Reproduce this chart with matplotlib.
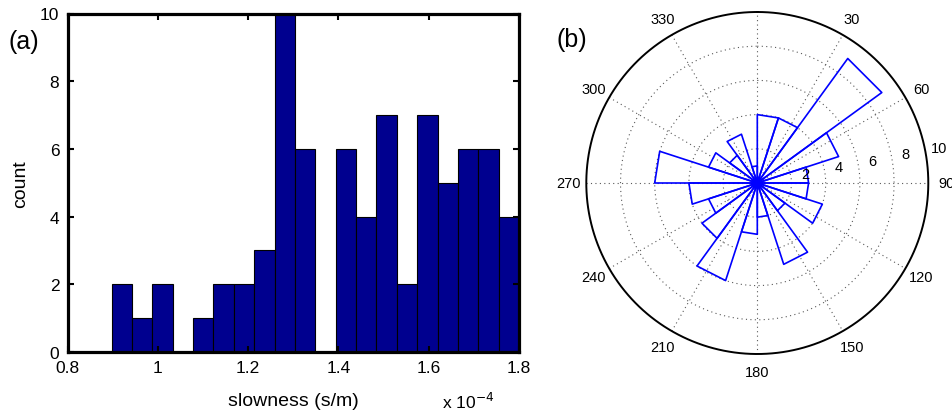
import numpy as np
import matplotlib.pyplot as plt

plt.rcParams['font.family'] = ['Liberation Sans', 'DejaVu Sans']

# slowness histogram (units of 1e-4 s/m), 20 bins between min and max
slow_min, slow_max = 0.8975, 1.80
slow_counts = [2, 1, 2, 0, 1, 2, 2, 3, 10, 6, 0, 6, 4, 7, 2, 7, 5, 6, 6, 4]

# back-azimuth rose, 20 sectors of 18 degrees clockwise from north
rose_counts = [4, 4, 9, 5, 3, 3, 4, 2, 5, 2, 3, 6, 4, 3, 4, 6, 3, 2, 3, 1]
angle_labels = [30, 60, 90, 120, 150, 180, 210, 240, 270, 300, 330]
radial_ticks = [2, 4, 6, 8, 10]

W, H = 953, 414
fig = plt.figure(figsize=(W / 100, H / 100), dpi=100)


def px_axes(x0, y0, x1, y1, **kw):
    return fig.add_axes([x0 / W, 1 - y1 / H, (x1 - x0) / W, (y1 - y0) / H], **kw)


# ---- (a) histogram ----
ax = px_axes(67.6, 14.5, 519, 353)
edges = np.linspace(slow_min, slow_max, len(slow_counts) + 1)
ax.bar(edges[:-1], slow_counts, width=np.diff(edges), align='edge',
       color='#00008F', edgecolor='black', linewidth=0.8)
ax.set_xlim(0.8, 1.8)
ax.set_ylim(0, 10)
ax.set_xticks([0.8, 1.0, 1.2, 1.4, 1.6, 1.8])
ax.set_xticklabels(['0.8', '1', '1.2', '1.4', '1.6', '1.8'])
ax.set_yticks([0, 2, 4, 6, 8, 10])
ax.tick_params(direction='in', top=True, right=True, length=4, width=1.5,
               labelsize=12.5, pad=6)
for s in ax.spines.values():
    s.set_linewidth(2.3)
ax.set_xlabel('slowness (s/m)', fontsize=14, labelpad=12)
ax.set_ylabel('count', fontsize=14, labelpad=8)
fig.text(468 / W, 1 - 402 / H, 'x 10$^{-4}$', fontsize=12.5, ha='center', va='center')
fig.text(8 / W, 1 - 42 / H, '(a)', fontsize=18, ha='left', va='center')

# ---- (b) rose diagram, drawn compass style ----
R = 10
cx, cy, rpx = 757.3, 184, 171
pa = px_axes(cx - rpx, cy - rpx, cx + rpx, cy + rpx)
pa.set_xlim(-R, R)
pa.set_ylim(-R, R)
pa.axis('off')

grid_kw = dict(color='0.35', linewidth=0.8, linestyle=(0, (1, 3)))
t = np.linspace(0, 2 * np.pi, 400)
for r in radial_ticks[:-1]:
    pa.plot(r * np.sin(t), r * np.cos(t), **grid_kw)
for a in np.deg2rad(np.arange(0, 180, 30)):
    pa.plot([-R * np.sin(a), R * np.sin(a)], [-R * np.cos(a), R * np.cos(a)], **grid_kw)
pa.plot(R * np.sin(t), R * np.cos(t), color='black', linewidth=1.4, clip_on=False)

nb = len(rose_counts)
step = 2 * np.pi / nb
for i, c in enumerate(rose_counts):
    a1, a2 = i * step, (i + 1) * step
    xs = [0, c * np.sin(a1), c * np.sin(a2), 0]
    ys = [0, c * np.cos(a1), c * np.cos(a2), 0]
    pa.plot(xs, ys, color='#0000FF', linewidth=1.2, clip_on=False)

for deg in angle_labels:
    a = np.deg2rad(deg)
    pa.text(11.05 * np.sin(a), 11.05 * np.cos(a), str(deg), fontsize=10.5,
            ha='center', va='center', clip_on=False)
for v in radial_ticks:
    a = np.deg2rad(79)
    rr = v + 0.85
    pa.text(rr * np.sin(a), rr * np.cos(a), str(v), fontsize=10.5,
            ha='center', va='center', clip_on=False)
fig.text(557 / W, 1 - 40 / H, '(b)', fontsize=18, ha='left', va='center')

fig.savefig('out.png', dpi=100)
